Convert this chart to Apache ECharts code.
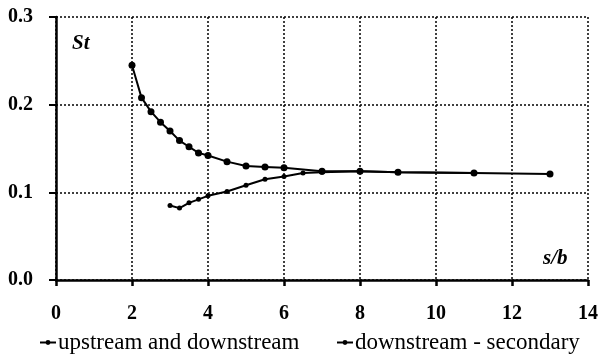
<!DOCTYPE html>
<html>
<head>
<meta charset="utf-8">
<script src="https://cdn.jsdelivr.net/npm/echarts@6/dist/echarts.min.js"></script>
<style>
  html, body { margin: 0; padding: 0; background: #fff; }
  #chart { width: 601px; height: 357px; }
</style>
</head>
<body>
<div id="chart"></div>
<script>
// Stanton number St against spacing ratio s/b
const upstreamX = [2, 2.25, 2.5, 2.75, 3, 3.25, 3.5, 3.75, 4, 4.5, 5, 5.5, 6, 7, 8, 9, 11, 13];
const upstreamSt = [0.245, 0.208, 0.192, 0.180, 0.170, 0.159, 0.152, 0.145, 0.142, 0.135, 0.130, 0.129, 0.128, 0.124, 0.124, 0.123, 0.122, 0.121];
const secondaryX = [3, 3.25, 3.5, 3.75, 4, 4.5, 5, 5.5, 6, 6.5, 7, 8, 9, 11];
const secondarySt = [0.085, 0.082, 0.088, 0.092, 0.096, 0.101, 0.108, 0.115, 0.118, 0.122, 0.123, 0.124, 0.123, 0.122];
const seriesNames = ['upstream and downstream', 'downstream - secondary'];

const pairs = (xs, ys) => xs.map((x, i) => [x, ys[i]]);
const serif = '"Liberation Serif", "DejaVu Serif", serif';

const chart = echarts.init(document.getElementById('chart'));
chart.setOption({
  animation: false,
  grid: { left: 56, right: 12, top: 17, bottom: 77 },
  xAxis: {
    type: 'value', min: 0, max: 14, interval: 2,
    axisLine: { onZero: false, lineStyle: { color: '#000', width: 2.5 } },
    axisTick: { inside: false, length: 6, lineStyle: { color: '#000', width: 2.5 } },
    axisLabel: { color: '#000', fontFamily: serif, fontWeight: 'bold', fontSize: 20, margin: 24 },
    splitLine: { show: true, lineStyle: { color: '#000', type: [2, 2], width: 1.5 } }
  },
  yAxis: {
    type: 'value', min: 0, max: 0.3, interval: 0.1,
    axisLine: { lineStyle: { color: '#000', width: 2.5 } },
    axisTick: { length: 7, lineStyle: { color: '#000', width: 2 } },
    axisLabel: { color: '#000', fontFamily: serif, fontWeight: 'bold', fontSize: 20, margin: 23,
      formatter: v => v.toFixed(1) },
    splitLine: { show: true, lineStyle: { color: '#000', type: [2, 2], width: 1.5 } }
  },
  legend: [
    { data: [seriesNames[0]], left: 34, top: 326, itemWidth: 16, itemHeight: 6, itemGap: 4,
      textStyle: { color: '#000', fontFamily: serif, fontSize: 23, padding: [0, 0, 0, -3] } },
    { data: [seriesNames[1]], left: 331, top: 326, itemWidth: 16, itemHeight: 6, itemGap: 4,
      textStyle: { color: '#000', fontFamily: serif, fontSize: 23, padding: [0, 0, 0, -3] } }
  ],
  graphic: [
    { type: 'text', left: 72, top: 33,
      style: { text: 'St', fontFamily: serif, fontStyle: 'italic', fontWeight: 'bold', fontSize: 21, fill: '#000' } },
    { type: 'text', left: 543, top: 248,
      style: { text: 's/b', fontFamily: serif, fontStyle: 'italic', fontWeight: 'bold', fontSize: 21, fill: '#000' } }
  ],
  series: [
    {
      name: seriesNames[0], type: 'line', data: pairs(upstreamX, upstreamSt),
      symbol: 'circle', symbolSize: 7, color: '#000',
      lineStyle: { color: '#000', width: 2 }, itemStyle: { color: '#000' }
    },
    {
      name: seriesNames[1], type: 'line', data: pairs(secondaryX, secondarySt),
      symbol: 'circle', symbolSize: 5, color: '#000',
      lineStyle: { color: '#000', width: 2 }, itemStyle: { color: '#000' }
    }
  ]
});
</script>
</body>
</html>
